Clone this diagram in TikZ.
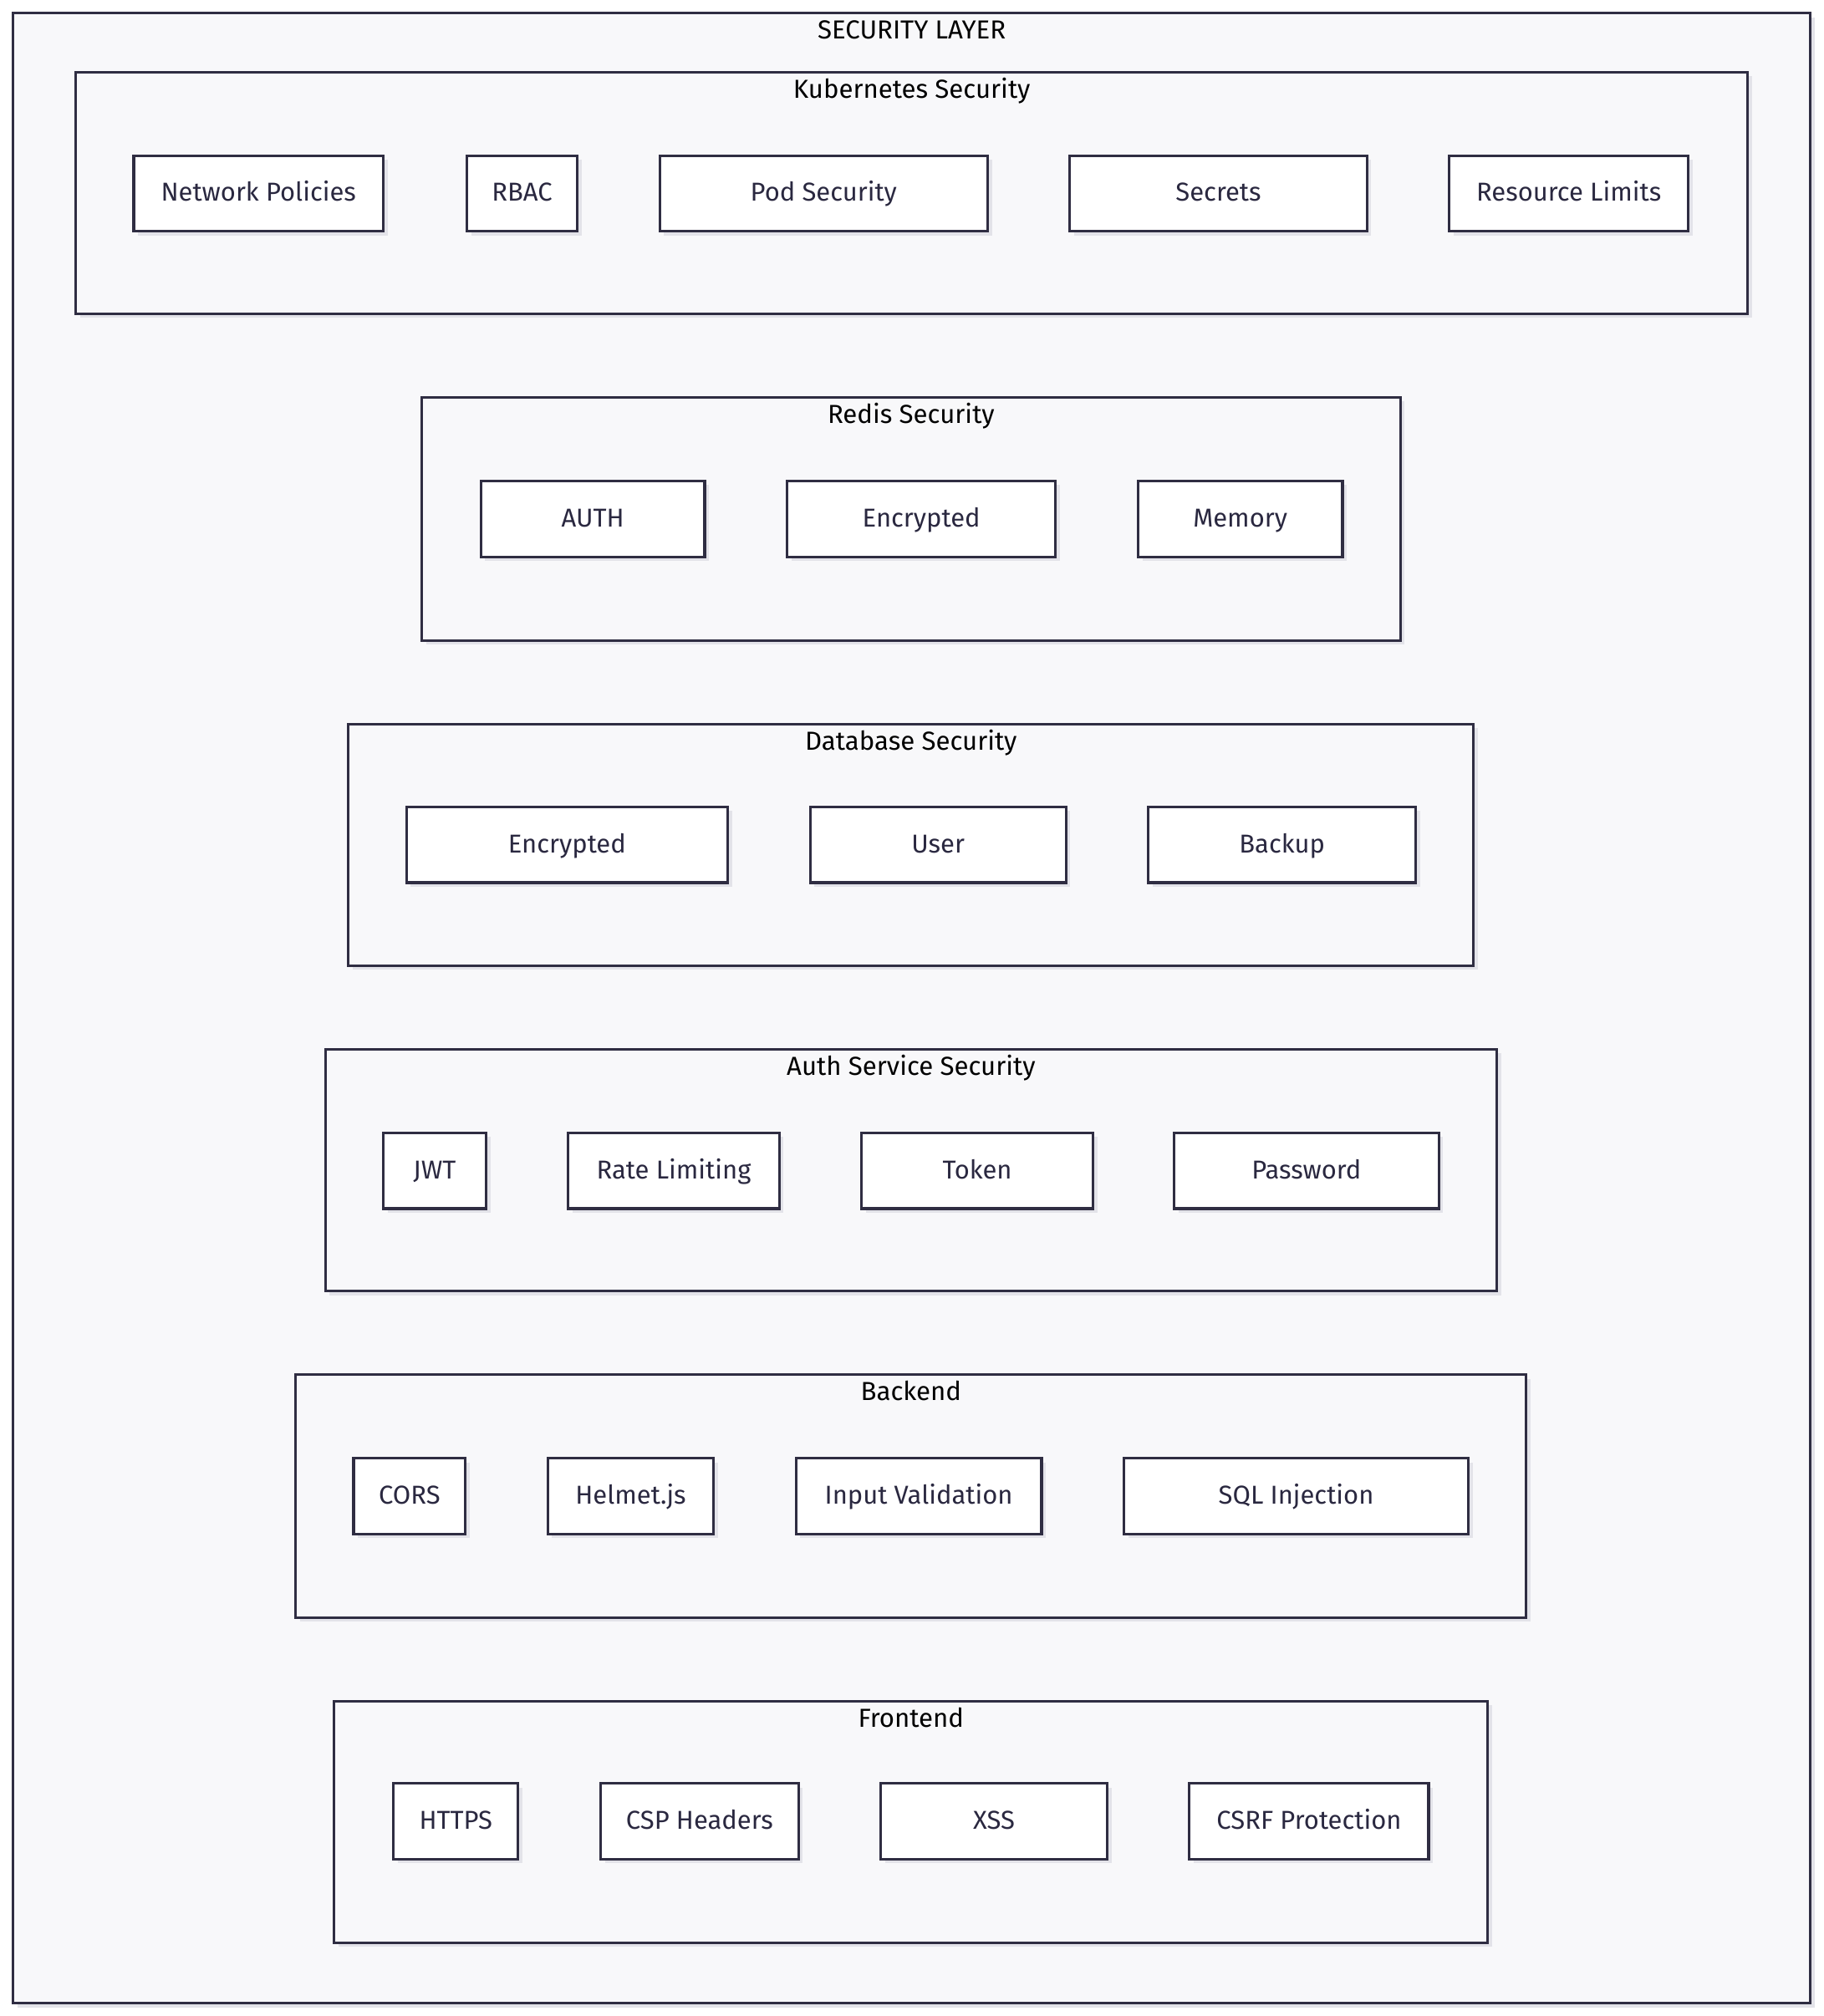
\documentclass[tikz,border=0pt]{standalone}
\usepackage{fontspec}
\setmainfont{Fira Sans}
\usetikzlibrary{shadows}

\definecolor{edgeink}{HTML}{2F2D42}
\definecolor{clusterbg}{HTML}{F8F8FA}
\definecolor{shadowgray}{HTML}{E3E3E9}
\definecolor{labelink}{HTML}{2A2840}

\tikzset{
  boxshadow/.style={drop shadow={shadow xshift=2.5pt, shadow yshift=-2.5pt, fill=shadowgray, opacity=1}},
  cluster/.style args={#1/#2}{draw=edgeink, line width=1.5pt, fill=clusterbg, boxshadow,
    inner sep=0pt, minimum width=#1*0.75pt, minimum height=#2*0.75pt},
  clustertitle/.style={anchor=north, inner sep=0pt, yshift=-8.6pt, text=black,
    text height=0.72em, text depth=0.22em, font=\fontsize{15.2}{18}\selectfont},
  itembox/.style={draw=edgeink, line width=1.5pt, fill=white, boxshadow, inner sep=0pt,
    minimum width=#1*0.75pt, minimum height=59*0.75pt, text=labelink,
    text height=1.14em, text depth=0.22em, font=\fontsize{15.1}{18}\selectfont},
}

\begin{document}
\begin{tikzpicture}[x=0.75pt,y=0.75pt,yscale=-1,xscale=1]
\useasboundingbox (0,0) rectangle (1418,1568);

%Outer frame
\node[cluster=1398/1548] (seclayer) at (709,784) {};
\node[clustertitle] (seclayertitle) at (seclayer.north) {SECURITY LAYER};

%Kubernetes Security
\node[cluster=1300/188] (k8s) at (709,150) {};
\node[clustertitle] (k8stitle) at (k8s.north) {Kubernetes Security};
\node[itembox=194] (netpol) at (201,150.5) {Network Policies};
\node[itembox=86] (rbac) at (406,150.5) {RBAC};
\node[itembox=255] (podsec) at (640.5,150.5) {Pod Security};
\node[itembox=231] (secrets) at (947.5,150.5) {Secrets};
\node[itembox=186] (reslim) at (1220,150.5) {Resource Limits};

%Redis Security
\node[cluster=761/189] (redis) at (708.5,403.5) {};
\node[clustertitle] (redistitle) at (redis.north) {Redis Security};
\node[itembox=174] (redisauth) at (461,403.5) {AUTH};
\node[itembox=209] (redisenc) at (716.5,403.5) {Encrypted};
\node[itembox=159] (redismem) at (964.5,403.5) {Memory};

%Database Security
\node[cluster=875/188] (db) at (708.5,657) {};
\node[clustertitle] (dbtitle) at (db.north) {Database Security};
\node[itembox=250] (dbenc) at (441,657) {Encrypted};
\node[itembox=199] (dbuser) at (729.5,657) {User};
\node[itembox=208] (dbbackup) at (997,657) {Backup};

%Auth Service Security
\node[cluster=911/188] (authsvc) at (708.5,910) {};
\node[clustertitle] (authsvctitle) at (authsvc.north) {Auth Service Security};
\node[itembox=80] (jwt) at (338,910.5) {JWT};
\node[itembox=164] (ratelim) at (524,910.5) {Rate Limiting};
\node[itembox=180] (token) at (760,910.5) {Token};
\node[itembox=206] (password) at (1016,910.5) {Password};

%Backend
\node[cluster=957/189] (backend) at (708.5,1163.5) {};
\node[clustertitle] (backendtitle) at (backend.north) {Backend};
\node[itembox=87] (cors) at (318.5,1163.5) {CORS};
\node[itembox=129] (helmet) at (490.5,1163.5) {Helmet.js};
\node[itembox=191] (inputval) at (714.5,1163.5) {Input Validation};
\node[itembox=268] (sqlinj) at (1008,1163.5) {SQL Injection};

%Frontend
\node[cluster=897/188] (frontend) at (708.5,1417) {};
\node[clustertitle] (frontendtitle) at (frontend.north) {Frontend};
\node[itembox=97] (https) at (354.5,1416.5) {HTTPS};
\node[itembox=154] (csp) at (544,1416.5) {CSP Headers};
\node[itembox=176] (xss) at (773,1416.5) {XSS};
\node[itembox=186] (csrf) at (1018,1416.5) {CSRF Protection};
\end{tikzpicture}
\end{document}
